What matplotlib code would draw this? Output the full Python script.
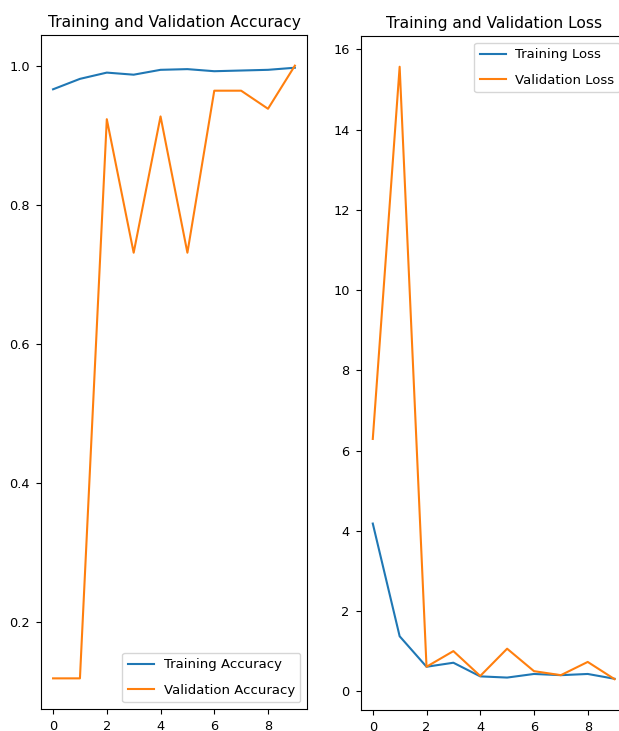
import matplotlib
matplotlib.use("Agg")
import matplotlib.pyplot as plt

# Epoch numbers
epochs = list(range(10))

# Accuracy values
train_acc = [0.966, 0.981, 0.990, 0.987, 0.994, 0.995, 0.992, 0.993, 0.994, 0.997]
val_acc = [0.119, 0.119, 0.923, 0.731, 0.927, 0.731, 0.964, 0.964, 0.938, 1.000]

# Loss values
train_loss = [4.18, 1.37, 0.61, 0.71, 0.37, 0.34, 0.43, 0.40, 0.43, 0.31]
val_loss = [6.29, 15.57, 0.61, 1.00, 0.38, 1.06, 0.50, 0.40, 0.73, 0.30]

fig = plt.figure(figsize=(6.19, 7.31), dpi=100)

# The reference is a cropped screenshot, so the right axes runs past the edge
# and the x tick labels are cut at the bottom
ax1 = fig.add_axes([0.0662, 0.0301, 0.4297, 0.922])
ax1.plot(epochs, train_acc, label="Training Accuracy")
ax1.plot(epochs, val_acc, label="Validation Accuracy")
ax1.legend(loc="lower right", fontsize=9.5, labelspacing=0.95, borderpad=0.42,
           handletextpad=0.7)
ax1.set_title("Training and Validation Accuracy", fontsize=11.2)
ax1.tick_params(labelsize=9.3, pad=4.5)

ax2 = fig.add_axes([0.5827, 0.029, 0.4297, 0.9216])
ax2.plot(epochs, train_loss, label="Training Loss")
ax2.plot(epochs, val_loss, label="Validation Loss")
ax2.legend(loc="upper right", fontsize=9.5, labelspacing=0.95, borderpad=0.42,
           handletextpad=0.7)
ax2.set_title("Training and Validation Loss", fontsize=11.2)
ax2.tick_params(labelsize=9.3, pad=4.5)

fig.savefig("out.png", dpi=100)
